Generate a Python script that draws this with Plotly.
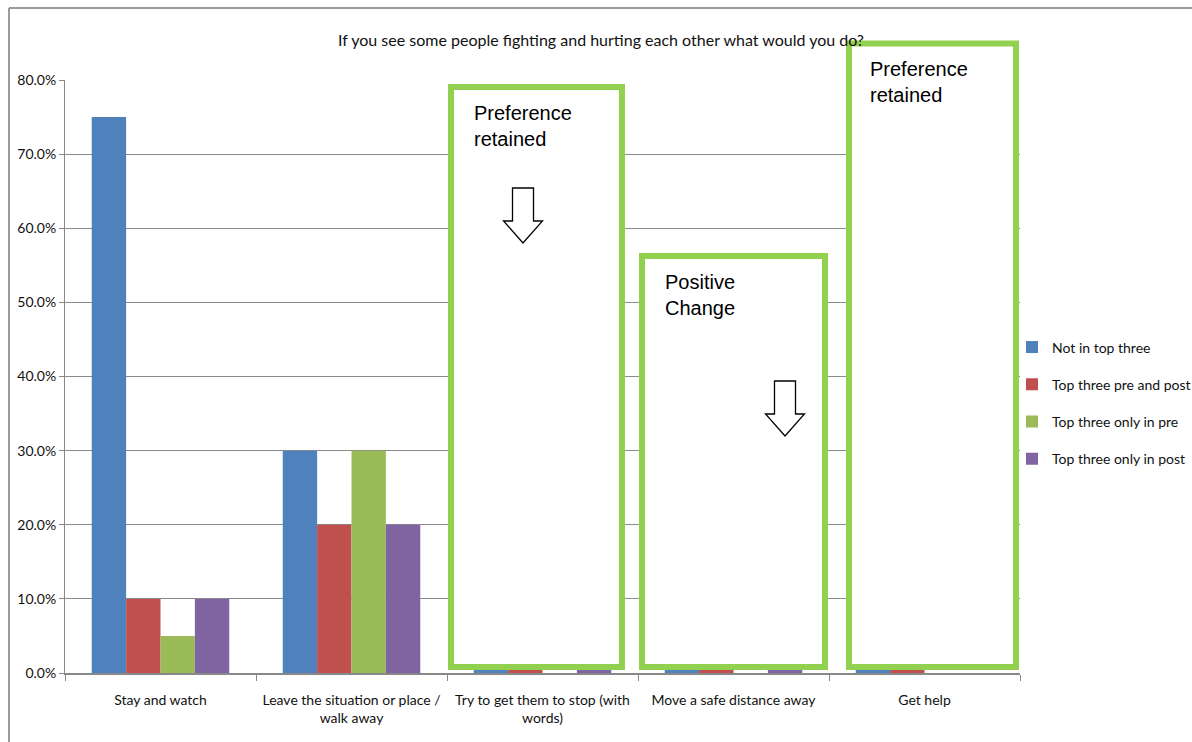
import plotly.graph_objects as go

categories = ["Stay and watch",
              "Leave the situation or place /<br>walk away",
              "Try to get them to stop (with<br>words)",
              "Move a safe distance away",
              "Get help"]
series_names = ["Not in top three", "Top three pre and post",
                "Top three only in pre", "Top three only in post"]
not_in_top_three = [0.75, 0.30, 0.10, 0.25, 0.10]
top_three_pre_and_post = [0.10, 0.20, 0.70, 0.30, 0.90]
top_three_only_in_pre = [0.05, 0.30, 0.00, 0.00, 0.00]
top_three_only_in_post = [0.10, 0.20, 0.20, 0.45, 0.00]
colors = ["#4F81BD", "#C0504D", "#9BBB59", "#8064A2"]

W, H = 1192, 742
L, R, T, B = 65, 172, 80, 69
PW, PH = W - L - R, H - T - B


def px(x):
    return (x - L) / PW


def py(y):
    return (H - B - y) / PH


FONT = "Lato, Liberation Sans, sans-serif"

fig = go.Figure()
for name, vals, c in zip(series_names,
                         [not_in_top_three, top_three_pre_and_post,
                          top_three_only_in_pre, top_three_only_in_post],
                         colors):
    fig.add_trace(go.Bar(x=categories, y=vals, name=name, legendgroup=name,
                         marker=dict(color=c, line=dict(width=0))))

shapes = []
# outer frame (top + left)
shapes.append(dict(type="line", xref="paper", yref="paper", x0=px(9), x1=px(1192),
                   y0=py(8), y1=py(8), line=dict(color="#9a9a9a", width=2)))
shapes.append(dict(type="line", xref="paper", yref="paper", x0=px(9), x1=px(9),
                   y0=py(8), y1=py(742), line=dict(color="#9a9a9a", width=2)))

# green boxes (white filled, covering bars)
for (x0, y0, x1, y1) in [(451, 87, 622, 667), (642, 256, 825, 667), (849, 43.5, 1016, 667)]:
    shapes.append(dict(type="rect", xref="paper", yref="paper", layer="above",
                       x0=px(x0), x1=px(x1), y0=py(y1), y1=py(y0),
                       fillcolor="white", line=dict(color="#92D050", width=6)))


def arrow(cx, top, shaft_bottom, tip, shw=10.5, hhw=19.5):
    pts = [(cx - shw, top), (cx + shw, top), (cx + shw, shaft_bottom),
           (cx + hhw, shaft_bottom), (cx, tip), (cx - hhw, shaft_bottom),
           (cx - shw, shaft_bottom)]
    p = "M " + " L ".join(f"{px(a):.5f},{py(b):.5f}" for a, b in pts) + " Z"
    return dict(type="path", xref="paper", yref="paper", layer="above", path=p,
                fillcolor="white", line=dict(color="black", width=1.3))


shapes.append(arrow(523, 188, 221, 243))
shapes.append(arrow(785, 381, 414, 436))

annotations = []
for (x, y, txt) in [(472, 100, "Preference<br>retained"),
                    (663, 269, "Positive<br>Change"),
                    (868, 56, "Preference<br>retained")]:
    annotations.append(dict(xref="paper", yref="paper", x=px(x), y=py(y),
                            xanchor="left", yanchor="top", align="left",
                            showarrow=False, text=txt,
                            font=dict(family="Liberation Sans, Arial, sans-serif",
                                      size=20, color="black")))

fig.update_layout(
    width=W, height=H,
    margin=dict(l=L, r=R, t=T, b=B, autoexpand=False),
    paper_bgcolor="white", plot_bgcolor="white",
    title=dict(text="If you see some people fighting and hurting each other what would you do?",
               xref="container", yref="container", x=601 / W, y=1 - 40 / H,
               xanchor="center", yanchor="middle",
               font=dict(family=FONT, size=16, color="#111")),
    barmode="group", bargap=0.28, bargroupgap=0,
    showlegend=True,
    legend=dict(xref="container", yref="container", x=1012 / W, y=1 - 403 / H,
                xanchor="left", yanchor="middle",
                tracegroupgap=16, itemwidth=30,
                font=dict(family=FONT, size=14, color="#111"),
                bgcolor="rgba(0,0,0,0)"),
    font=dict(family=FONT, size=14, color="#111"),
    shapes=shapes, annotations=annotations,
)
fig.update_xaxes(type="category", showline=True, linecolor="#888888", linewidth=2,
                 ticks="outside", tickson="boundaries", ticklen=6, tickcolor="#888888",
                 ticklabelstandoff=13, showgrid=False, tickangle=0, automargin=False,
                 tickfont=dict(family=FONT, size=14, color="#111"))
fig.update_yaxes(range=[0, 0.8], dtick=0.1, tickformat=".1%", showline=True,
                 linecolor="#888888", linewidth=1, ticks="outside", ticklen=5,
                 tickcolor="#888888", showgrid=True, gridcolor="#8a8a8a", gridwidth=1,
                 zeroline=False, automargin=False,
                 tickfont=dict(family=FONT, size=14, color="#111"))

fig.write_html("out.html")
